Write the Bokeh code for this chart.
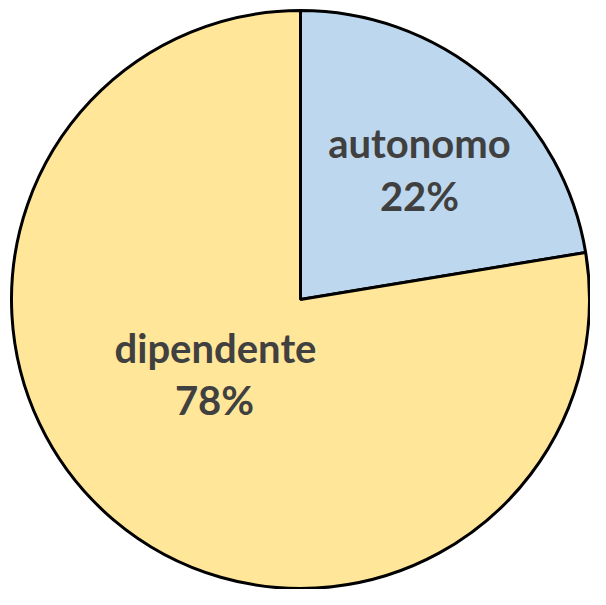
import math
from bokeh.plotting import figure
from bokeh.models import Range1d, ColumnDataSource
from bokeh.core.properties import value
from bokeh.embed import file_html
from bokeh.resources import INLINE

categories = ["autonomo", "dipendente"]
shares = [22.4, 77.6]
pct_labels = ["22%", "78%"]
colors = ["#BDD7EE", "#FFE699"]
# label anchor offsets from the pie centre (px, y up)
name_dx = [119, -85]
name_dy = [157, -48]
pct_dx = [119, -86]
pct_dy = [104, -100]

W, H = 590, 589
cx, cy = 300, 290
R = 289

total = sum(shares)
starts, ends = [], []
a = math.pi / 2
for s in shares:
    starts.append(a)
    a -= 2 * math.pi * s / total
    ends.append(a)

src = ColumnDataSource(dict(
    x=[cx] * len(categories), y=[cy] * len(categories),
    start=starts, end=ends, color=colors, cat=categories,
))

p = figure(width=W, height=H, output_backend="svg", toolbar_location=None,
           x_range=Range1d(0, W), y_range=Range1d(0, H),
           min_border=0, outline_line_color=None)
p.axis.visible = False
p.grid.visible = False
p.background_fill_color = "white"

p.wedge(x="x", y="y", radius=R, start_angle="start", end_angle="end",
        direction="clock", fill_color="color", line_color="black",
        line_width=3, source=src)

lab = ColumnDataSource(dict(
    nx=[cx + d for d in name_dx], ny=[cy + d for d in name_dy],
    px=[cx + d for d in pct_dx], py=[cy + d for d in pct_dy],
    name=categories, pct=pct_labels,
))
for xk, yk, tk in (("nx", "ny", "name"), ("px", "py", "pct")):
    p.text(x=xk, y=yk, text=tk, source=lab, text_font=value("Lato"),
           text_font_style="bold", text_font_size="40px",
           text_color="#404040", text_align="center",
           text_baseline="middle")

open("out.html", "w").write(file_html(p, INLINE))
